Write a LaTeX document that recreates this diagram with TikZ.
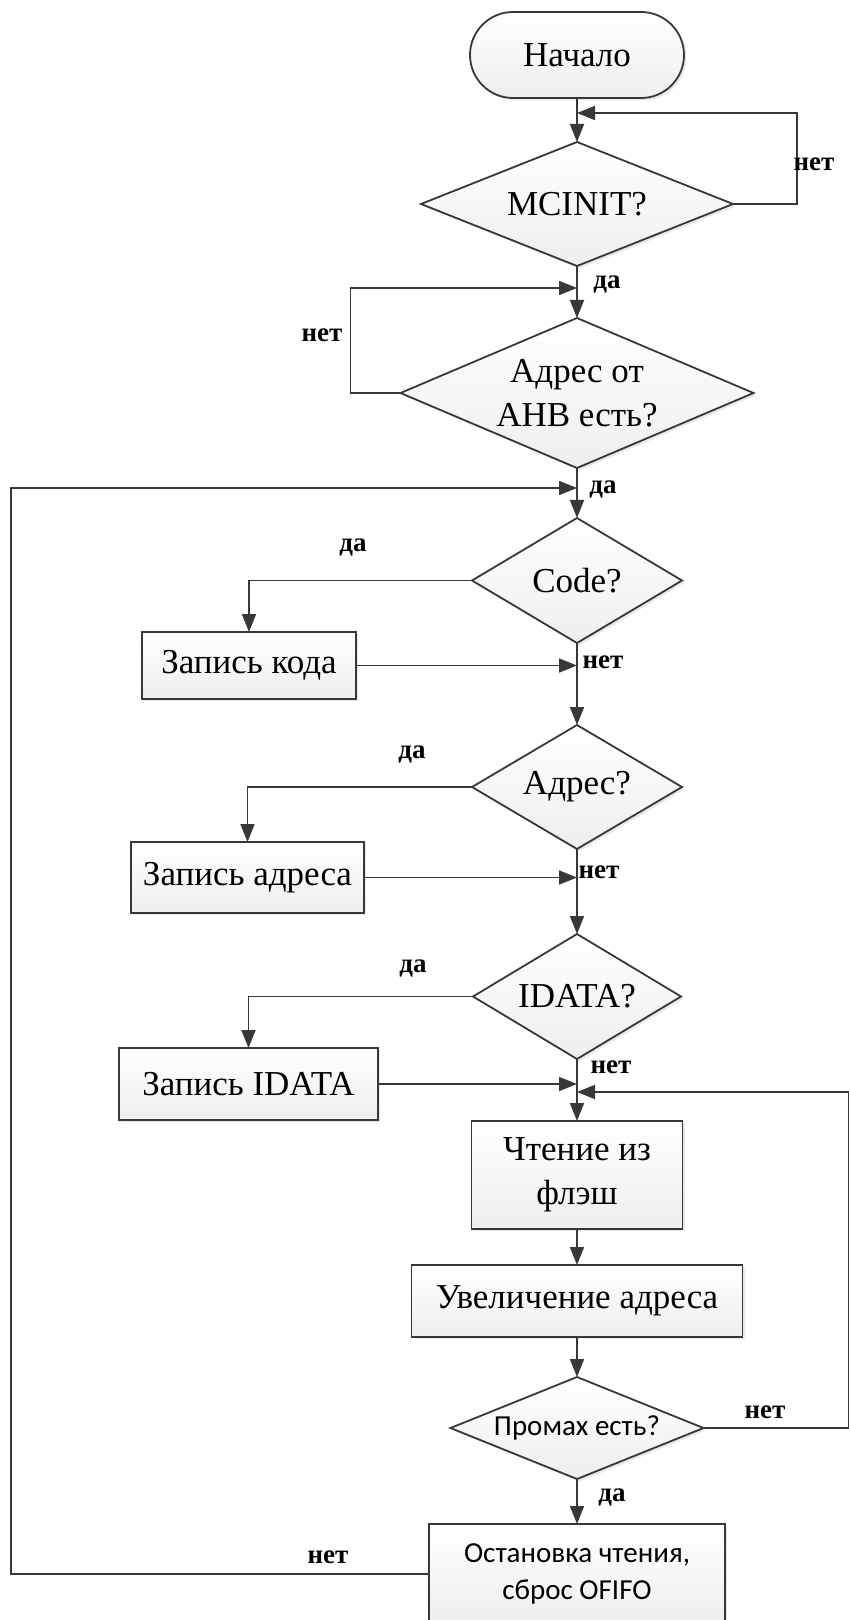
\documentclass[tikz,border=0pt]{standalone}
\usepackage{fontspec}
\setmainfont{Liberation Serif}
\newfontfamily\calibri{Carlito}
\usetikzlibrary{positioning}
\usetikzlibrary{shapes.geometric,shadows,arrows.meta}

\begin{document}
\begin{tikzpicture}[x=1pt, y=1pt, node distance=22pt,
    line/.style={draw=black!78, line width=0.9pt},
    arr/.style={line, -{Triangle[length=9pt,width=7pt]}},
    block/.style={draw=black!78, line width=0.9pt, top color=white, bottom color=gray!13,
      drop shadow={opacity=0.18, shadow xshift=1.2pt, shadow yshift=-1.2pt},
      inner sep=0pt, outer sep=0pt, align=center, font=\fontsize{17.5}{22}\selectfont},
    cond/.style={block, diamond, aspect=1.7},
    lbl/.style={font=\fontsize{13.5}{15}\selectfont\bfseries, inner sep=1pt}]
	\useasboundingbox (0,0) rectangle (424.5,-810);
	% main column
	\node[block, rounded corners=21.5pt, minimum width=107pt, minimum height=43pt] (start) at (288.5,-27.5) {Начало};
	\node[cond, aspect=2.5, minimum width=156pt, minimum height=62pt, below=22pt of start] (mcinit) {MCINIT?};
	\node[cond, aspect=2.35, minimum width=176.5pt, minimum height=75pt, below=26pt of mcinit] (ahb) {Адрес от\\AHB есть?};
	\node[cond, minimum width=105pt, minimum height=62.5pt, below=25pt of ahb] (code) {Code?};
	\node[cond, minimum width=105pt, minimum height=62pt, below=41pt of code] (adr) {Адрес?};
	\node[cond, minimum width=104pt, minimum height=62.5pt, below=42.5pt of adr] (idata) {IDATA?};
	\node[block, minimum width=105.5pt, minimum height=54pt, below=31pt of idata] (read) {Чтение из\\флэш};
	\node[block, minimum width=165.5pt, minimum height=36pt, below=18pt of read] (inc) {Увеличение адреса};
	\node[cond, aspect=2.48, minimum width=126.5pt, minimum height=51pt, below=20pt of inc, font=\calibri\fontsize{14.5}{18}\selectfont] (miss) {Промах есть?};
	\node[block, minimum width=148pt, minimum height=50pt, below=22.5pt of miss, font=\calibri\fontsize{14.5}{18.5}\selectfont] (stop) {Остановка чтения,\\сброс OFIFO};
	% side boxes
	\node[block, minimum width=107pt, minimum height=33.5pt] (wcode) at (124.5,-332.75) {Запись кода};
	\node[block, minimum width=116.5pt, minimum height=35.5pt] (wadr) at (123.75,-438.75) {Запись адреса};
	\node[block, minimum width=129.5pt, minimum height=36pt] (wdata) at (124.25,-542) {Запись IDATA};
	% junctions on the main line and the outer return lines
	\coordinate (j1) at (288.5,-56.5);
	\coordinate (j2) at (288.5,-144);
	\coordinate (j3) at (288.5,-244);
	\coordinate (j4) at (288.5,-332);
	\coordinate (j5) at (288.5,-440);
	\coordinate (j6) at (288.5,-542.5);
	\coordinate (j7) at (288.5,-546);
	\coordinate (rt) at (424.2,0);
	\coordinate (lf) at (5.5,0);
	% connectors
	\draw[arr] (start) -- (mcinit);
	\draw[arr] (mcinit.east) -- ++(32,0) |- (j1);
	\draw[arr] (mcinit) -- (ahb);
	\draw[arr] (ahb.west) -- ++(-25,0) |- (j2);
	\draw[arr] (ahb) -- (code);
	\draw[arr] (code.west) -| (wcode.north);
	\draw[arr] (wcode.east) -- (wcode.east -| j4);
	\draw[arr] (code) -- (adr);
	\draw[arr] (adr.west) -| (wadr.north);
	\draw[arr] (wadr.east) -- (wadr.east -| j5);
	\draw[arr] (adr) -- (idata);
	\draw[arr] (idata.west) -| (wdata.north);
	\draw[arr] (wdata.east) -- (wdata.east -| j6);
	\draw[arr] (idata) -- (read);
	\draw[arr] (read) -- (inc);
	\draw[arr] (inc) -- (miss);
	\draw[arr] (miss) -- (stop);
	\draw[arr] (miss.east) -- (miss.east -| rt) |- (j7);
	\draw[arr] (stop.west) -- (stop.west -| lf) |- (j3);
	% labels
	\node[lbl] (n1) at (407,-82) {нет};
	\node[lbl] (y1) at (303.5,-142.5) {да};
	\node[lbl] (n2) at (161,-167.5) {нет};
	\node[lbl] (y2) at (301.5,-245) {да};
	\node[lbl] (y3) at (176.5,-274) {да};
	\node[lbl] (n3) at (301.5,-331) {нет};
	\node[lbl] (y4) at (206,-377.5) {да};
	\node[lbl] (n4) at (299.5,-436) {нет};
	\node[lbl] (y5) at (206.5,-484.5) {да};
	\node[lbl] (n5) at (305.5,-533.5) {нет};
	\node[lbl] (n6) at (382.5,-706) {нет};
	\node[lbl] (y6) at (306,-748.5) {да};
	\node[lbl] (n7) at (164,-778.5) {нет};
\end{tikzpicture}
\end{document}
